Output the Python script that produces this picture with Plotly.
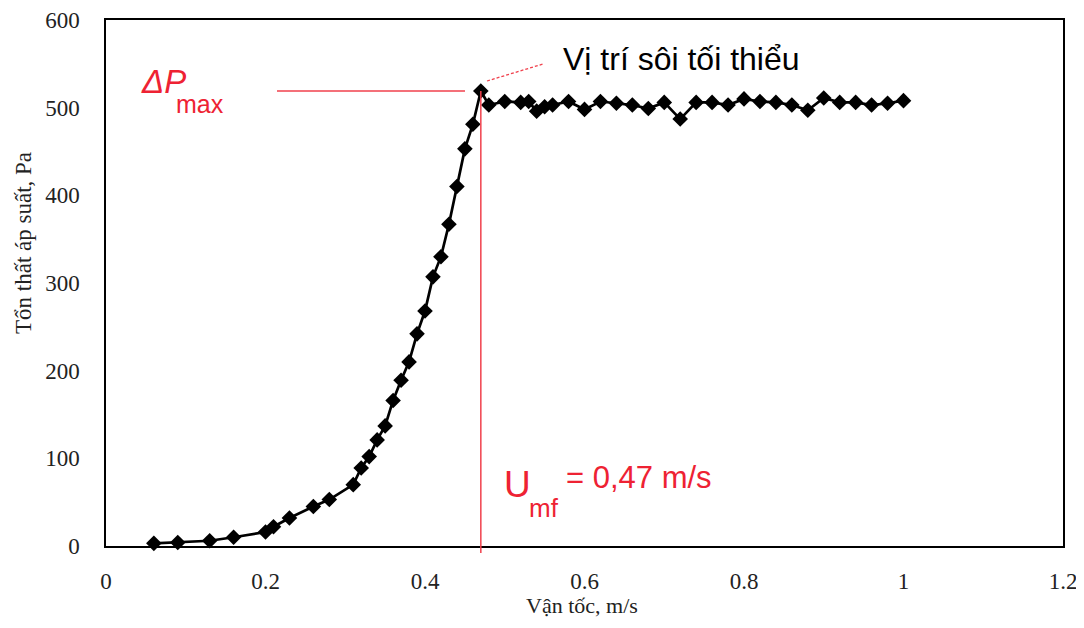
import plotly.graph_objects as go

# ---- data ----
velocity = [0.06, 0.09, 0.13, 0.16, 0.20, 0.21, 0.23, 0.26, 0.28, 0.31,
            0.32, 0.33, 0.34, 0.35, 0.36, 0.37, 0.38, 0.39, 0.40, 0.41,
            0.42, 0.43, 0.44, 0.45, 0.46, 0.47, 0.48, 0.50, 0.52, 0.53,
            0.54, 0.55, 0.56, 0.58, 0.60, 0.62, 0.64, 0.66, 0.68, 0.70,
            0.72, 0.74, 0.76, 0.78, 0.80, 0.82, 0.84, 0.86, 0.88, 0.90,
            0.92, 0.94, 0.96, 0.98, 1.00]
pressure_drop = [3, 4, 6, 10, 16, 22, 32, 45, 53, 70,
                 89, 102, 121, 137, 166, 189, 210, 242, 268, 307,
                 330, 367, 410, 453, 481, 519, 503, 507, 506, 507,
                 496, 501, 503, 507, 498, 507, 505, 503, 499, 506,
                 487, 506, 506, 503, 510, 507, 506, 503, 497, 511,
                 506, 506, 503, 505, 508]
u_mf = 0.47
dp_max = 519
x_ticks = [0, 0.2, 0.4, 0.6, 0.8, 1, 1.2]
y_ticks = [0, 100, 200, 300, 400, 500, 600]

RED = "#EE2233"
LRED = "#F0404C"
PAD = 8  # browser body margin
W, H = 1084 - 2 * PAD, 628 - 2 * PAD
# plot-area edges in screenshot pixels
SL, ST, SR, SB = 106, 20, 1063, 546
L, T = SL - PAD, ST - PAD
R, B = (1084 - PAD) - SR, (628 - PAD) - SB
PW, PH = SR - SL, SB - ST
XMAX, YMAX = 1.2, 600


def X(px):
    return (px - SL) / PW * XMAX


def Y(py):
    return (SB - py) / PH * YMAX


fig = go.Figure()
fig.add_trace(go.Scatter(
    x=velocity, y=pressure_drop, mode="lines+markers",
    line=dict(color="black", width=2.7),
    marker=dict(symbol="diamond", size=12, color="black"),
    cliponaxis=False, showlegend=False,
))

shapes = [
    dict(type="line", xref="x", yref="paper", x0=u_mf, x1=u_mf,
         y0=-7 / PH, y1=dp_max / YMAX, line=dict(color=LRED, width=1.5)),
    dict(type="line", xref="x", yref="y", x0=X(277), x1=X(465),
         y0=dp_max, y1=dp_max, line=dict(color=LRED, width=1.5)),
    dict(type="line", xref="x", yref="y", x0=X(487), x1=X(543),
         y0=Y(81), y1=Y(64), line=dict(color=LRED, width=1.3, dash="3px,2px")),
]

ann = [
    dict(text="<i>ΔP</i>", x=X(139), y=Y(81), font=dict(family="Liberation Sans", size=33, color=RED)),
    dict(text="max", x=X(174), y=Y(104), font=dict(family="Liberation Sans", size=25, color=RED)),
    dict(text="U", x=X(502), y=Y(484), font=dict(family="Liberation Sans", size=37, color=RED)),
    dict(text="mf", x=X(527), y=Y(508), font=dict(family="Liberation Sans", size=26, color=RED)),
    dict(text="= 0,47 m/s", x=X(564), y=Y(477), font=dict(family="Liberation Sans", size=31, color=RED)),
    dict(text="Vị trí sôi tối thiểu", x=X(561), y=Y(59), font=dict(family="Liberation Sans", size=32, color="black")),
]
annotations = []
for a in ann:
    a.update(xref="x", yref="y", xanchor="left", yanchor="middle", showarrow=False)
    annotations.append(a)

annotations.append(dict(text="Vận tốc, m/s", xref="paper", yref="paper",
                        x=(582 - SL) / PW, y=(SB - 605) / PH, xanchor="center", yanchor="middle",
                        showarrow=False, font=dict(family="Liberation Serif", size=22, color="#222")))
annotations.append(dict(text="Tổn thất áp suất, Pa", xref="paper", yref="paper", textangle=-90,
                        x=(23 - SL) / PW, y=(SB - 243) / PH, xanchor="center", yanchor="middle",
                        showarrow=False, font=dict(family="Liberation Serif", size=23, color="#222")))

fig.update_layout(
    width=W, height=H,
    margin=dict(l=L, r=R, t=T, b=B, autoexpand=False),
    paper_bgcolor="white", plot_bgcolor="white",
    shapes=shapes, annotations=annotations,
    xaxis=dict(range=[0, XMAX], tickvals=x_ticks, ticktext=[str(v) for v in x_ticks],
               showgrid=False, zeroline=False, showline=True, mirror=True,
               linecolor="black", linewidth=1.5, ticks="", automargin=False,
               tickfont=dict(family="Liberation Serif", size=23, color="#222"),
               ticklabelstandoff=14, ticklabeloverflow="allow"),
    yaxis=dict(range=[0, YMAX], tickvals=y_ticks, automargin=False,
               showgrid=False, zeroline=False, showline=True, mirror=True,
               linecolor="black", linewidth=1.5, ticks="",
               tickfont=dict(family="Liberation Serif", size=23, color="#222"),
               ticklabelstandoff=20),
)

fig.write_html("out.html")
